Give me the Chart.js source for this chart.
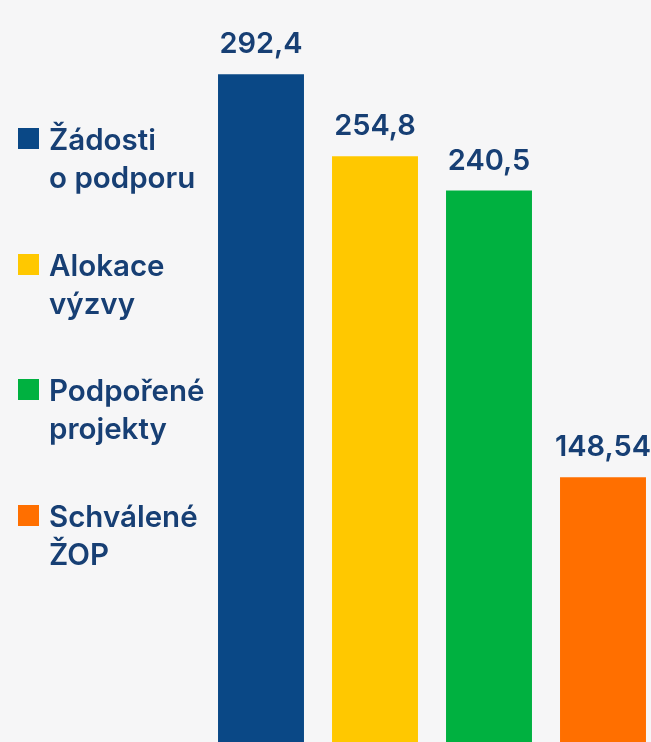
<!DOCTYPE html>
<html>
<head>
<meta charset="utf-8">
<script src="https://cdn.jsdelivr.net/npm/chart.js@4"></script>
<style>
  html, body { margin: 0; padding: 0; background: #f6f6f7; overflow: hidden; }
  #wrap { position: relative; width: 651px; height: 742px; overflow: hidden; }
  #barChart { position: absolute; left: 0; top: 0; }
  .legend-item { position: absolute; left: 0; font-family: Inter, "Noto Sans", sans-serif; font-weight: 600; font-size: 29.5px; line-height: 38px; color: #173f74; }
  .legend-box { position: absolute; left: 18px; width: 21px; height: 21px; }
  .legend-text { position: absolute; left: 49px; white-space: nowrap; }
</style>
</head>
<body>
<div id="wrap">
  <canvas id="barChart" width="660" height="742"></canvas>
  <div id="legend"></div>
</div>
<script>
const categories = ["Žádosti o podporu", "Alokace výzvy", "Podpořené projekty", "Schválené ŽOP"];
const legendLines = [["Žádosti", "o podporu"], ["Alokace", "výzvy"], ["Podpořené", "projekty"], ["Schválené", "ŽOP"]];
const values = [292.4, 254.8, 240.5, 148.54];
const valueLabels = ["292,4", "254,8", "240,5", "148,54"];
const colors = ["#0a4886", "#ffc800", "#00b140", "#ff6f00"];

const textColor = "#173f74";

// legend on the left, built from the same arrays
const legend = document.getElementById("legend");
legendLines.forEach(function(lines, i){
    const baseline = 150 + 125.5*i;
    const box = document.createElement("div");
    box.className = "legend-box";
    box.style.top = (baseline - 22) + "px";
    box.style.background = colors[i];
    legend.appendChild(box);

    const txt = document.createElement("div");
    txt.className = "legend-item legend-text";
    txt.style.top = (baseline - 30) + "px";
    txt.innerHTML = lines.join("<br>");
    legend.appendChild(txt);
});

const valueLabelPlugin = {
    id: "valueLabels",
    afterDatasetsDraw(chart){
        const ctx = chart.ctx;
        const meta = chart.getDatasetMeta(0);
        ctx.save();
        ctx.fillStyle = textColor;
        ctx.font = "600 29px Inter, 'Noto Sans', sans-serif";
        ctx.textAlign = "center";
        ctx.textBaseline = "alphabetic";
        meta.data.forEach(function(bar, i){
            ctx.fillText(valueLabels[i], bar.x, bar.y - 21);
        });
        ctx.restore();
    }
};

const barChart = new Chart(document.getElementById("barChart").getContext("2d"), {
    type: "bar",
    data: {
        labels: categories,
        datasets: [{
            data: values,
            backgroundColor: colors,
            borderWidth: 0,
            categoryPercentage: 1,
            barPercentage: 0.754
        }]
    },
    options: {
        responsive: false,
        animation: false,
        devicePixelRatio: 1,
        layout: { padding: { left: 204, right: 0, top: 0, bottom: 0 } },
        plugins: {
            legend: { display: false },
            tooltip: { enabled: false }
        },
        scales: {
            x: { display: false },
            y: {
                display: false,
                type: "logarithmic",
                bounds: "data",
                min: 95.2,
                max: 331.3
            }
        }
    },
    plugins: [valueLabelPlugin]
});
</script>
</body>
</html>
